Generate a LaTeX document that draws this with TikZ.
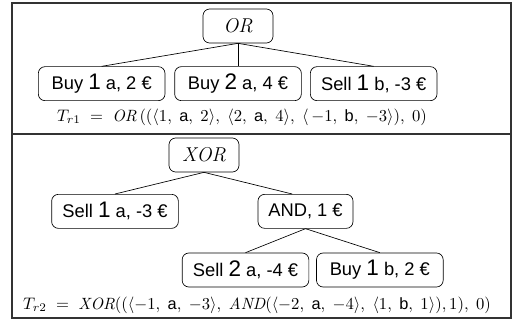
\documentclass[tikz,border=0pt]{standalone}
\usepackage{amsmath}
\usepackage{fontspec}
\setsansfont{Liberation Sans}
\usetikzlibrary{positioning}
\newcommand{\amt}[1]{{\fontsize{13.5}{13}\selectfont #1}}

\begin{document}
\begin{tikzpicture}[x=0.6pt, y=-0.6pt,
        op/.style={rectangle, draw, rounded corners=4pt, minimum height=20.4pt, minimum width=42pt, font=\large},
        leaf/.style={rectangle, draw, rounded corners=4pt, minimum height=20.4pt, minimum width=76pt, inner xsep=6pt, font=\fontsize{11}{13}\selectfont\sffamily},
        formula/.style={font=\fontsize{9.8}{11}\selectfont},
        frame/.style={draw=black!80, line width=0.7pt},
    ]
\useasboundingbox (0,0) rectangle (513,321);
\draw[frame] (12,3) rectangle (511,318);
\draw[frame] (12,134) -- (511,134);

% OR tree
\node[op] (OR) at (238,26) {$\mathit{OR}$};
\node[leaf, below=13.8pt of OR] (BuyTwoA) {Buy \amt{2} a, 4 €};
\node[leaf, left=5.4pt of BuyTwoA] (BuyOneA) {Buy \amt{1} a, 2 €};
\node[leaf, right=5pt of BuyTwoA] (SellOneB) {Sell \amt{1} b, -3 €};
\draw (OR.south) -- (BuyOneA.north);
\draw (OR.south) -- (BuyTwoA.north);
\draw (OR.south) -- (SellOneB.north);
\node[formula] (TrOne) at (242,117) {$T_{r1}\;=\;\mathit{OR}\,((\langle 1,\;\mathsf{a},\;2\rangle,\;\langle 2,\;\mathsf{a},\;4\rangle,\;\langle\,{-1},\;\mathsf{b},\;{-3}\rangle),\;0)$};

% XOR tree
\node[op] (XOR) at (204,155) {$\mathit{XOR}$};
\node[leaf, below left=13pt and -6pt of XOR] (SellOneA) {Sell \amt{1} a, -3 €};
\node[leaf, below right=13pt and 11pt of XOR, minimum width=57pt] (AND) {AND, 1 €};
\node[leaf, below=14.4pt of AND, xshift=-36pt] (SellTwoA) {Sell \amt{2} a, -4 €};
\node[leaf, right=4.2pt of SellTwoA] (BuyOneB) {Buy \amt{1} b, 2 €};
\draw (XOR.south) -- (SellOneA.north);
\draw (XOR.south) -- ([xshift=-8pt]AND.north);
\draw (AND.south) -- (SellTwoA.north);
\draw (AND.south) -- (BuyOneB.north);
\node[formula] (TrTwo) at (257,305) {$T_{r2}\;=\;\mathit{XOR}((\langle{-1},\;\mathsf{a},\;{-3}\rangle,\;\mathit{AND}(\langle{-2},\;\mathsf{a},\;{-4}\rangle,\;\langle 1,\;\mathsf{b},\;1\rangle),1),\;0)$};
\end{tikzpicture}
\end{document}
